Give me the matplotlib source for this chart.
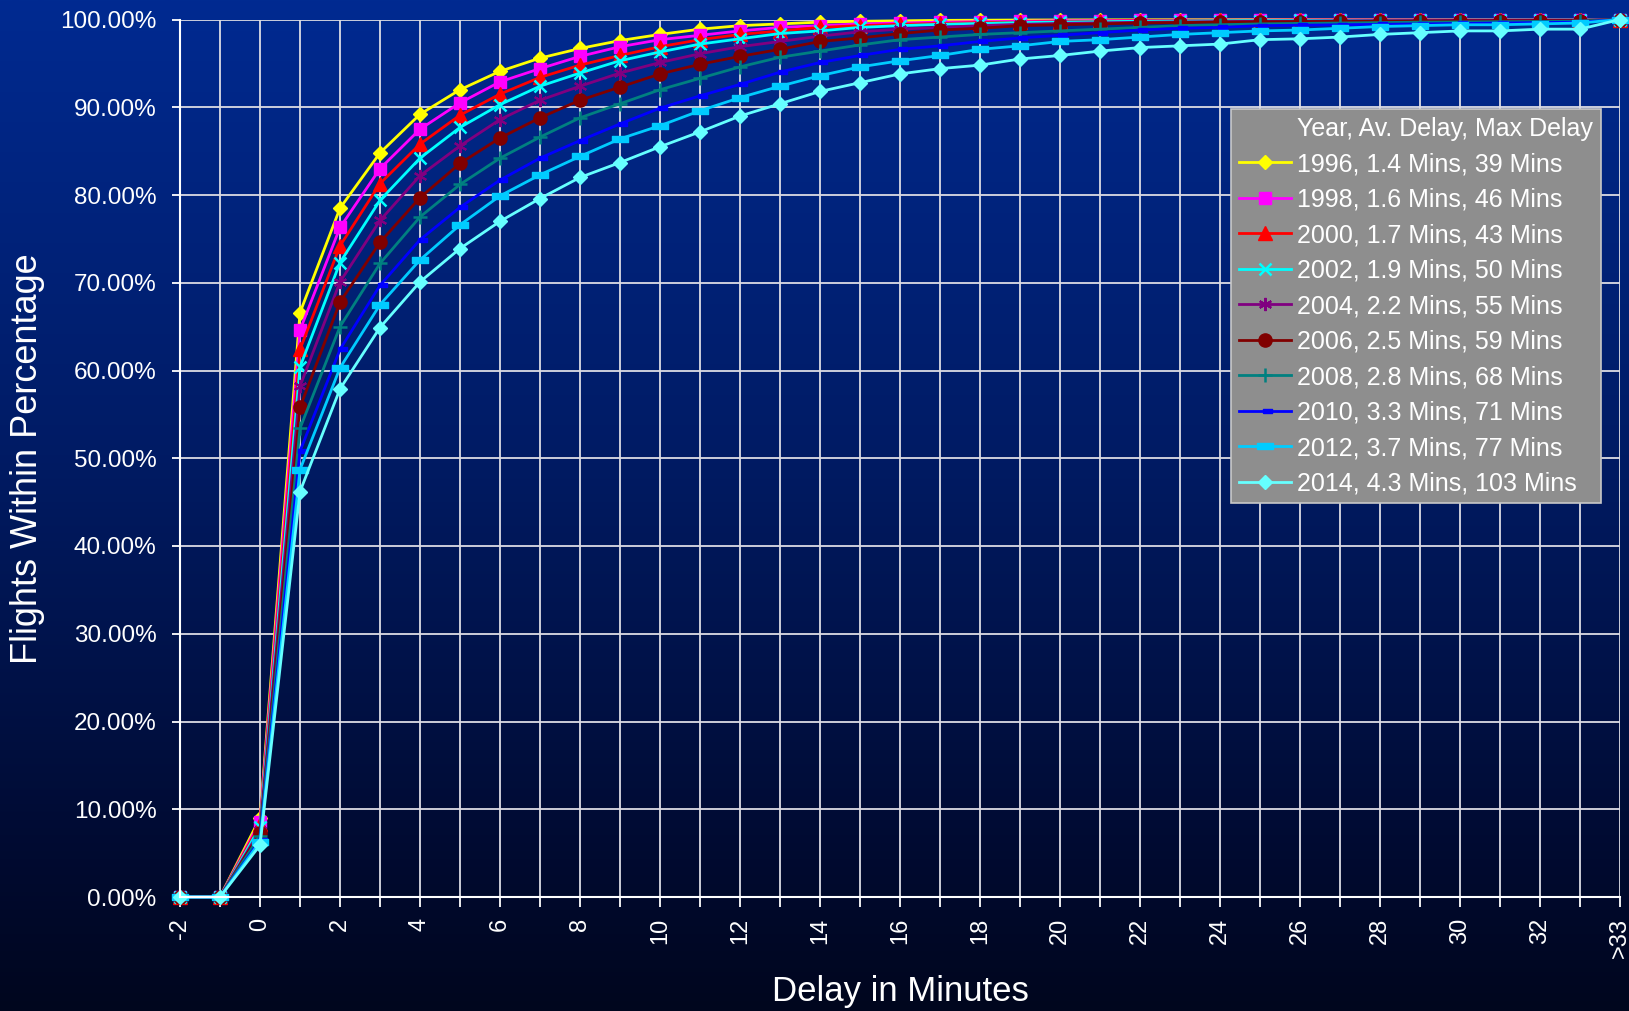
import numpy as np
import matplotlib
matplotlib.use("Agg")
import matplotlib.pyplot as plt
from matplotlib.ticker import FuncFormatter, FixedLocator
from matplotlib.lines import Line2D

plt.rcParams['font.family'] = ['Liberation Sans', 'DejaVu Sans']

categories = ['-2', '-1'] + [str(i) for i in range(0, 34)] + ['>33']

labels = [
    "1996, 1.4 Mins, 39 Mins",
    "1998, 1.6 Mins, 46 Mins",
    "2000, 1.7 Mins, 43 Mins",
    "2002, 1.9 Mins, 50 Mins",
    "2004, 2.2 Mins, 55 Mins",
    "2006, 2.5 Mins, 59 Mins",
    "2008, 2.8 Mins, 68 Mins",
    "2010, 3.3 Mins, 71 Mins",
    "2012, 3.7 Mins, 77 Mins",
    "2014, 4.3 Mins, 103 Mins",
]
legend_title_entry = "Year, Av. Delay, Max Delay"

y1996 = [0, 0, 9.0, 66.6, 78.5, 84.8, 89.2, 92.0, 94.1, 95.6, 96.7, 97.6, 98.3, 98.9, 99.3, 99.5, 99.7,
         99.8, 99.85, 99.9, 99.92, 99.94, 99.95, 99.96, 99.97, 99.98, 99.98, 99.99, 99.99, 99.99, 99.99,
         99.99, 99.99, 99.99, 99.99, 99.99, 100]
y1998 = [0, 0, 8.6, 64.6, 76.3, 83.0, 87.5, 90.5, 92.9, 94.4, 95.8, 96.9, 97.7, 98.2, 98.7, 99.1, 99.3,
         99.5, 99.6, 99.7, 99.75, 99.8, 99.85, 99.87, 99.9, 99.92, 99.93, 99.94, 99.95, 99.96, 99.96,
         99.97, 99.97, 99.98, 99.98, 99.98, 100]
y2000 = [0, 0, 8.3, 62.4, 74.2, 81.3, 85.8, 89.1, 91.5, 93.4, 94.8, 95.9, 96.9, 97.7, 98.3, 98.7, 99.1,
         99.3, 99.45, 99.55, 99.65, 99.7, 99.75, 99.8, 99.85, 99.87, 99.9, 99.9, 99.92, 99.93, 99.94,
         99.95, 99.96, 99.96, 99.97, 99.97, 100]
y2002 = [0, 0, 8.0, 60.4, 72.3, 79.4, 84.2, 87.7, 90.3, 92.4, 93.9, 95.3, 96.3, 97.2, 97.8, 98.4, 98.7,
         99.1, 99.3, 99.45, 99.55, 99.65, 99.7, 99.75, 99.8, 99.83, 99.86, 99.88, 99.9, 99.91, 99.92,
         99.93, 99.94, 99.95, 99.95, 99.96, 100]
y2004 = [0, 0, 7.6, 58.2, 70.1, 77.1, 82.2, 85.6, 88.6, 90.8, 92.4, 93.9, 95.1, 96.1, 96.9, 97.5, 98.1,
         98.6, 98.9, 99.1, 99.3, 99.45, 99.55, 99.62, 99.68, 99.72, 99.76, 99.8, 99.82, 99.85, 99.87,
         99.88, 99.9, 99.91, 99.92, 99.93, 100]
y2006 = [0, 0, 7.3, 55.8, 67.8, 74.6, 79.7, 83.6, 86.5, 88.8, 90.8, 92.3, 93.8, 94.9, 95.8, 96.6, 97.5,
         97.9, 98.4, 98.8, 99.0, 99.3, 99.4, 99.5, 99.6, 99.65, 99.7, 99.73, 99.76, 99.78, 99.8,
         99.82, 99.84, 99.85, 99.86, 99.87, 100]
y2008 = [0, 0, 7.0, 53.4, 65.0, 72.2, 77.5, 81.2, 84.2, 86.6, 88.8, 90.4, 92.0, 93.3, 94.6, 95.7, 96.4,
         97.1, 97.7, 98.0, 98.3, 98.5, 98.7, 98.9, 99.1, 99.3, 99.4, 99.5, 99.55, 99.6, 99.65,
         99.7, 99.72, 99.75, 99.77, 99.8, 100]
y2010 = [0, 0, 6.5, 50.8, 62.4, 69.7, 74.9, 78.6, 81.7, 84.2, 86.2, 88.1, 89.9, 91.3, 92.6, 94.0, 95.1,
         95.9, 96.6, 97.0, 97.5, 97.9, 98.2, 98.5, 98.8, 99.0, 99.1, 99.3, 99.35, 99.4, 99.45,
         99.5, 99.55, 99.6, 99.65, 99.7, 100]
y2012 = [0, 0, 6.3, 48.7, 60.3, 67.5, 72.6, 76.6, 79.9, 82.3, 84.4, 86.4, 87.9, 89.6, 91.1, 92.4, 93.6,
         94.6, 95.3, 95.9, 96.6, 97.0, 97.5, 97.7, 98.0, 98.3, 98.5, 98.7, 98.8, 99.0, 99.2,
         99.3, 99.4, 99.4, 99.5, 99.6, 100]
y2014 = [0, 0, 5.9, 46.2, 57.9, 64.9, 70.1, 73.9, 77.0, 79.6, 82.0, 83.7, 85.5, 87.2, 89.0, 90.4, 91.8,
         92.8, 93.8, 94.4, 94.8, 95.5, 95.9, 96.4, 96.8, 97.0, 97.2, 97.7, 97.8, 98.0, 98.3,
         98.5, 98.7, 98.7, 98.9, 98.9, 100]

series = [y1996, y1998, y2000, y2002, y2004, y2006, y2008, y2010, y2012, y2014]
colors = ['#FFFF00', '#FF00FF', '#FF0000', '#00FFFF', '#800080', '#800000', '#008080',
          '#0000FF', '#00CCFF', '#66FFFF']

short_dash = [(-0.3, -0.3), (1, -0.3), (1, 0.3), (-0.3, 0.3), (-0.3, -0.3)]
long_dash = [(-1, -0.35), (1, -0.35), (1, 0.35), (-1, 0.35), (-1, -0.35)]
markers = ['D', 's', '^', 'x', (6, 2, 0), 'o', '+', short_dash, long_dash, 'D']
msizes = [7.5, 9, 9.5, 8.5, 9.5, 9.5, 9.5, 10.5, 11.5, 7.5]
mews = [1, 1, 1, 1.8, 1.5, 1, 1.8, 1, 1, 1]

W, H = 1629, 1011
fig = plt.figure(figsize=(W / 100, H / 100), dpi=100)

# gradient background
bg = fig.add_axes([0, 0, 1, 1], zorder=-10)
stops_pos = np.array([0.0, 0.45, 0.85, 1.0])
stops_col = np.array([[0, 42, 145], [0, 27, 100], [0, 10, 48], [0, 6, 30]]) / 255.0
t = np.linspace(0, 1, 512)
grad = np.stack([np.interp(t, stops_pos, stops_col[:, k]) for k in range(3)], axis=1)
bg.imshow(grad[:, None, :], aspect='auto', extent=[0, 1, 1, 0])
bg.set_axis_off()

left, right = 180 / W, 1620 / W
bottom, top = 1 - 897 / H, 1 - 19.5 / H
ax = fig.add_axes([left, bottom, right - left, top - bottom])
ax.set_facecolor('none')

x = np.arange(len(categories))
for ys, c, m, ms, mew, lab in zip(series, colors, markers, msizes, mews, labels):
    ax.plot(x, ys, color=c, lw=2, marker=m, markersize=ms, markerfacecolor=c,
            markeredgecolor=c, markeredgewidth=mew, label=lab, clip_on=False)

ax.set_xlim(0, len(categories) - 1)
ax.set_ylim(0, 100)
ax.xaxis.set_major_locator(FixedLocator(x))
ax.set_xticklabels([lab if i % 2 == 0 else '' for i, lab in enumerate(categories)],
                   rotation=90, fontsize=17, color='white')
ax.set_yticks(np.arange(0, 101, 10))
ax.yaxis.set_major_formatter(FuncFormatter(lambda v, p: f"{v:.2f}%"))
ax.tick_params(axis='y', labelsize=17.5, colors='white', length=6, width=1.3, pad=11, direction='out')
ax.tick_params(axis='x', colors='white', length=7, width=1.3, pad=8, direction='out')
ax.grid(True, color='#dcdce4', lw=1.3)
ax.set_axisbelow(True)
for s in ['top', 'right']:
    ax.spines[s].set_visible(False)
for s in ['left', 'bottom']:
    ax.spines[s].set_color('white')
    ax.spines[s].set_linewidth(1.5)

ax.set_ylabel("Flights Within Percentage", fontsize=26, color='white')
ax.set_xlabel("Delay in Minutes", fontsize=25, color='white', labelpad=12)
ax.yaxis.set_label_coords(-0.094, 0.5)

handles, labs = ax.get_legend_handles_labels()
dummy = Line2D([], [], color='none', marker=None, lw=0)
leg = ax.legend([dummy] + handles, [legend_title_entry] + labs,
                loc='upper left', bbox_to_anchor=(0.730, 0.898),
                fontsize=18, frameon=True, fancybox=False, framealpha=1,
                facecolor='#8E8E8E', edgecolor='#c8c8c8', handlelength=2.1,
                handletextpad=0.25, labelspacing=0.46, borderpad=0.3, borderaxespad=0,
                markerscale=1.0)
leg.get_frame().set_linewidth(1.2)
for txt in leg.get_texts():
    txt.set_color('white')

fig.savefig('out.png', dpi=100)
